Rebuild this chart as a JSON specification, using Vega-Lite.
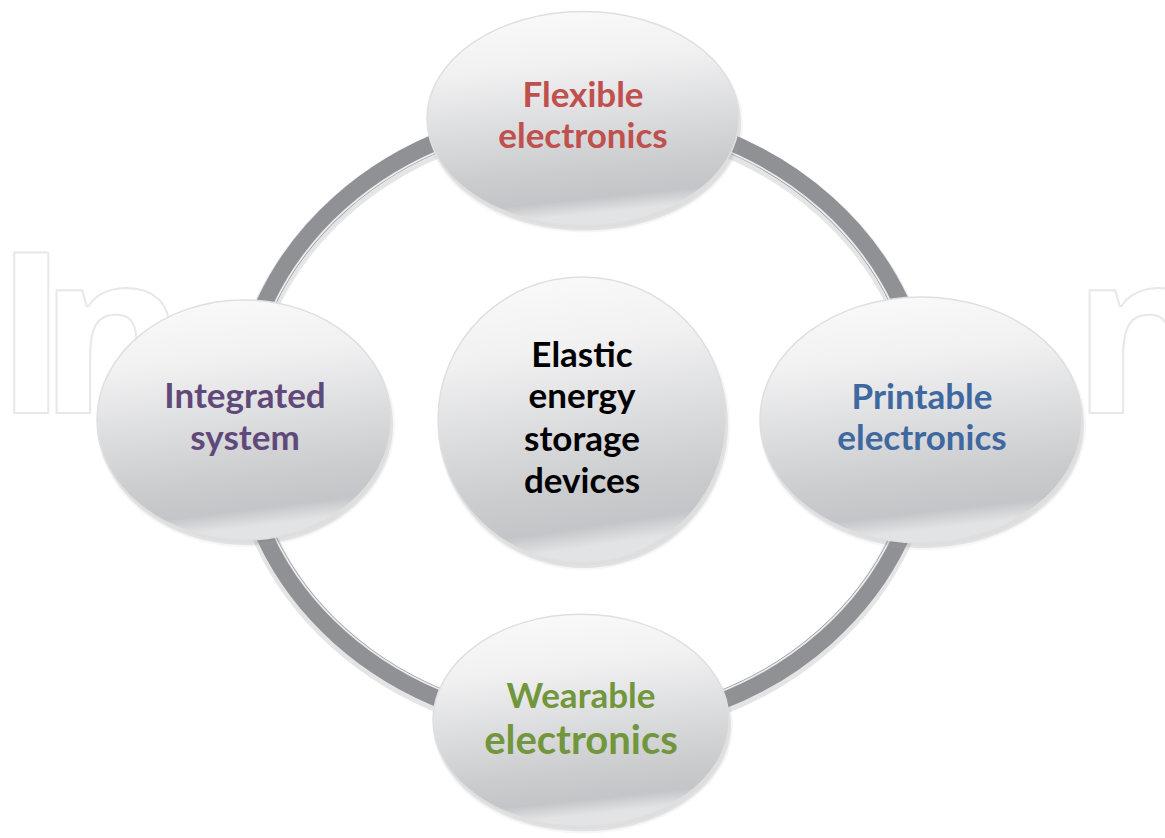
{
  "$schema": "https://vega.github.io/schema/vega-lite/v6.json",
  "width": 1165,
  "height": 838,
  "autosize": {"type": "fit", "contains": "padding"},
  "padding": 0,
  "background": "#ffffff",
  "config": {"view": {"stroke": null}},
  "datasets": {
    "watermark": [{"text": "I", "x": -6, "y": 418}, {"text": "n", "x": 39, "y": 418}, {"text": "n", "x": 1072, "y": 418}],
    "ring": [{"name": "ring", "x": 583, "y": 425}],
    "nodes": [
      {"name": "top", "x": 583, "y": 120},
      {"name": "left", "x": 244, "y": 425},
      {"name": "right", "x": 921, "y": 425},
      {"name": "bottom", "x": 581, "y": 729},
      {"name": "center", "x": 582, "y": 425}
    ],
    "labels": [
      {"group": "Flexible electronics", "text": "Flexible", "x": 583, "y": 108},
      {"group": "Flexible electronics", "text": "electronics", "x": 583, "y": 150},
      {"group": "Integrated system", "text": "Integrated", "x": 245, "y": 413},
      {"group": "Integrated system", "text": "system", "x": 245, "y": 455},
      {"group": "Printable electronics", "text": "Printable", "x": 922, "y": 414},
      {"group": "Printable electronics", "text": "electronics", "x": 922, "y": 455},
      {"group": "Wearable electronics", "text": "Wearable", "x": 581, "y": 717},
      {"group": "Wearable electronics", "text": "electronics", "x": 581, "y": 763},
      {"group": "Elastic energy storage devices", "text": "Elastic", "x": 582, "y": 371},
      {"group": "Elastic energy storage devices", "text": "energy", "x": 582, "y": 413},
      {"group": "Elastic energy storage devices", "text": "storage", "x": 582, "y": 456},
      {"group": "Elastic energy storage devices", "text": "devices", "x": 582, "y": 499}
    ]
  },
  "encoding": {
    "x": {"field": "x", "type": "quantitative", "scale": {"domain": [0, 1165], "nice": false, "zero": false}, "axis": null},
    "y": {"field": "y", "type": "quantitative", "scale": {"domain": [0, 838], "nice": false, "zero": false, "reverse": true}, "axis": null}
  },
  "layer": [
    {
      "data": {"name": "watermark"},
      "mark": {"type": "text", "clip": true, "font": "Open Sans", "fontWeight": "bold", "fontSize": 225, "align": "left", "baseline": "alphabetic", "fillOpacity": 0, "stroke": "#e8e8e8", "strokeWidth": 2, "strokeJoin": "round"},
      "encoding": {"text": {"field": "text"}}
    },
    {
      "data": {"name": "ring"},
      "mark": {"type": "point", "filled": false, "size": 4, "shape": "M -343 0 A 343 306 0 1 0 343 0 A 343 306 0 1 0 -343 0 Z", "stroke": "#d4d5d7", "strokeWidth": 24, "opacity": 0.6, "yOffset": 3},
      "encoding": {}
    },
    {
      "data": {"name": "ring"},
      "mark": {"type": "point", "filled": false, "size": 4, "shape": "M -343 0 A 343 306 0 1 0 343 0 A 343 306 0 1 0 -343 0 Z", "stroke": "#8f9195", "strokeWidth": 19, "opacity": 1},
      "encoding": {}
    },
    {
      "data": {"name": "ring"},
      "mark": {"type": "point", "filled": false, "size": 4, "shape": "M -335 0 A 335 298 0 1 0 335 0 A 335 298 0 1 0 -335 0 Z", "stroke": "#f4f6f8", "strokeWidth": 1.8, "opacity": 0.9},
      "encoding": {}
    },
    {
      "data": {"name": "nodes"},
      "mark": {"type": "point", "filled": true, "size": 4, "fill": "#8c8c8c", "opacity": 0.28, "xOffset": 2, "yOffset": 5, "stroke": "#b0b0b0", "strokeWidth": 4, "strokeOpacity": 0.4},
      "encoding": {
        "shape": {"field": "name", "type": "nominal", "legend": null, "scale": {
          "domain": ["top", "left", "right", "bottom", "center"],
          "range": [
            "M -156 0 A 156 107 0 1 0 156 0 A 156 107 0 1 0 -156 0 Z",
            "M -147 0 A 147 120 0 1 0 147 0 A 147 120 0 1 0 -147 0 Z",
            "M -161 0 A 161 123 0 1 0 161 0 A 161 123 0 1 0 -161 0 Z",
            "M -148 0 A 148 106 0 1 0 148 0 A 148 106 0 1 0 -148 0 Z",
            "M -144 0 A 144 143 0 1 0 144 0 A 144 143 0 1 0 -144 0 Z"
          ]
        }}
      }
    },
    {
      "data": {"name": "nodes"},
      "mark": {"type": "point", "filled": true, "size": 4, "opacity": 1, "stroke": "#dedfe1", "strokeWidth": 1.5,
        "fill": {"gradient": "linear", "x1": 0, "y1": 0, "x2": 0.15, "y2": 1, "stops": [
          {"offset": 0, "color": "#fbfbfb"},
          {"offset": 0.3, "color": "#f1f1f2"},
          {"offset": 0.8, "color": "#cbccce"},
          {"offset": 0.93, "color": "#c4c5c8"},
          {"offset": 1, "color": "#e2e3e5"}
        ]}},
      "encoding": {
        "shape": {"field": "name", "type": "nominal", "legend": null, "scale": {
          "domain": ["top", "left", "right", "bottom", "center"],
          "range": [
            "M -156 0 A 156 107 0 1 0 156 0 A 156 107 0 1 0 -156 0 Z",
            "M -147 0 A 147 120 0 1 0 147 0 A 147 120 0 1 0 -147 0 Z",
            "M -161 0 A 161 123 0 1 0 161 0 A 161 123 0 1 0 -161 0 Z",
            "M -148 0 A 148 106 0 1 0 148 0 A 148 106 0 1 0 -148 0 Z",
            "M -144 0 A 144 143 0 1 0 144 0 A 144 143 0 1 0 -144 0 Z"
          ]
        }}
      }
    },
    {
      "data": {"name": "labels"},
      "transform": [{"filter": "!(datum.group === 'Wearable electronics' && datum.text === 'electronics')"}],
      "mark": {"type": "text", "font": "Lato", "fontWeight": "bold", "fontSize": 35, "align": "center", "baseline": "alphabetic"},
      "encoding": {
        "text": {"field": "text"},
        "color": {"field": "group", "type": "nominal", "legend": null, "scale": {
          "domain": ["Flexible electronics", "Integrated system", "Printable electronics", "Wearable electronics", "Elastic energy storage devices"],
          "range": ["#c0504d", "#5f497a", "#3f68a0", "#71963c", "#000000"]
        }}
      }
    },
    {
      "data": {"name": "labels"},
      "transform": [{"filter": "datum.group === 'Wearable electronics' && datum.text === 'electronics'"}],
      "mark": {"type": "text", "font": "Lato", "fontWeight": "bold", "fontSize": 40, "align": "center", "baseline": "alphabetic"},
      "encoding": {
        "text": {"field": "text"},
        "color": {"field": "group", "type": "nominal", "legend": null, "scale": {
          "domain": ["Flexible electronics", "Integrated system", "Printable electronics", "Wearable electronics", "Elastic energy storage devices"],
          "range": ["#c0504d", "#5f497a", "#3f68a0", "#71963c", "#000000"]
        }}
      }
    }
  ]
}
